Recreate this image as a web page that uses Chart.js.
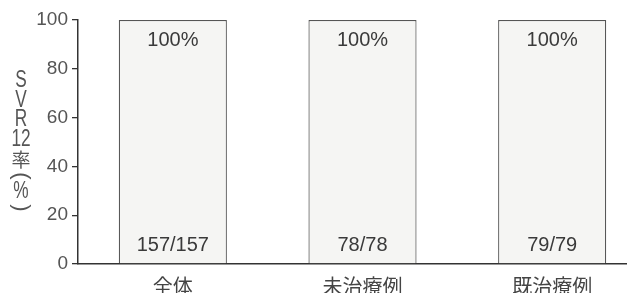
<!DOCTYPE html>
<html>
<head>
<meta charset="utf-8">
<script src="https://cdn.jsdelivr.net/npm/chart.js"></script>
<style>
  html, body { margin: 0; padding: 0; background: #fff; overflow: hidden; }
  canvas { display: block; }
</style>
</head>
<body>
<canvas id="c" width="650" height="293"></canvas>
<script>
// データ
const categories = ['全体', '未治療例', '既治療例'];
const svrRates = [100, 100, 100];
const rateLabels = ['100%', '100%', '100%'];
const countLabels = ['157/157', '78/78', '79/79'];
const yTitleLines = ['S', 'V', 'R', '12', '率', '(', '%', ')'];

const latin = '"Liberation Sans", Arial, sans-serif';
const cjk = '"Noto Sans CJK JP", sans-serif';

// 棒の中のラベルと縦書きの軸タイトル
const labelPlugin = {
  id: 'labels',
  afterDatasetsDraw(chart) {
    const ctx = chart.ctx;
    const meta = chart.getDatasetMeta(0);
    ctx.save();
    ctx.fillStyle = '#3a3a3a';
    ctx.textAlign = 'center';
    ctx.textBaseline = 'middle';
    ctx.font = '20px ' + latin;
    meta.data.forEach((bar, i) => {
      ctx.fillText(rateLabels[i], bar.x, chart.chartArea.top + 20);
      ctx.fillText(countLabels[i], bar.x, chart.chartArea.bottom - 19);
    });
    ctx.restore();

    // 縦書きタイトル
    ctx.save();
    ctx.fillStyle = '#555';
    ctx.textAlign = 'center';
    ctx.textBaseline = 'middle';
    const ys = [81, 101, 120, 140, 160, 176, 192, 208];
    yTitleLines.forEach((t, i) => {
      ctx.save();
      ctx.translate(21, ys[i]);
      if (t === '(' || t === ')') {
        ctx.rotate(Math.PI / 2);
        ctx.font = '22px ' + latin;
      } else if (/[A-Z0-9%]/.test(t)) {
        ctx.scale(0.75, 1);
        ctx.font = '23px ' + latin;
      } else {
        ctx.font = '19px ' + cjk;
      }
      ctx.fillText(t, 0, 0);
      ctx.restore();
    });
    ctx.restore();
  }
};

new Chart(document.getElementById('c'), {
  type: 'bar',
  data: {
    labels: categories,
    datasets: [{
      data: svrRates,
      backgroundColor: '#f5f5f3',
      borderColor: '#555',
      borderWidth: 1.2,
      borderSkipped: 'bottom',
      barPercentage: 0.57,
      categoryPercentage: 1
    }]
  },
  options: {
    responsive: false,
    animation: false,
    events: [],
    layout: { padding: { top: 20, right: 3, left: 0, bottom: 0 } },
    plugins: { legend: { display: false }, tooltip: { enabled: false } },
    scales: {
      x: {
        grid: { display: false },
        border: { display: true, color: '#333', width: 1.5 },
        ticks: { color: '#444', font: { family: cjk, size: 20 }, padding: 2, maxRotation: 0 },
        afterFit(scale) { scale.height = 29; }
      },
      y: {
        min: 0,
        max: 100,
        ticks: { stepSize: 20, color: '#555', font: { family: latin, size: 19 }, padding: 4 },
        grid: { drawOnChartArea: false, tickLength: 6, color: '#333', lineWidth: 1.3 },
        border: { display: true, color: '#333', width: 1.5 },
        afterFit(scale) { scale.width = 78; }
      }
    }
  },
  plugins: [labelPlugin]
});
</script>
</body>
</html>
